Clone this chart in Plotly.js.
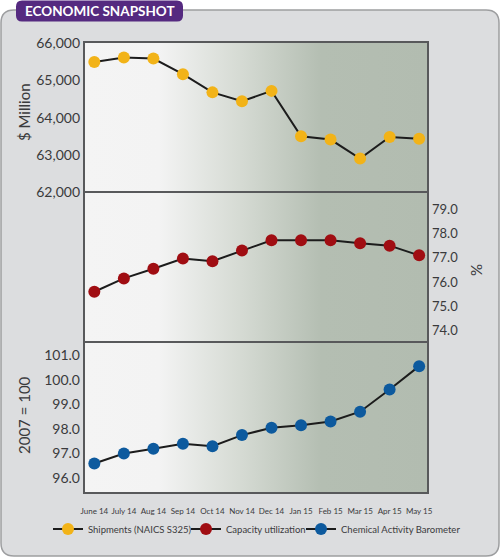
<!DOCTYPE html>
<html>
<head>
<meta charset="utf-8">
<script src="https://cdn.plot.ly/plotly-3.0.1.min.js"></script>
<style>html,body{margin:0;padding:0;background:#fff;}#chart{width:500px;height:558px;}</style>
</head>
<body>
<div id="chart"></div>
<script>
// ---- data ----
var months = ["June 14","July 14","Aug 14","Sep 14","Oct 14","Nov 14","Dec 14","Jan 15","Feb 15","Mar 15","Apr 15","May 15"];
var shipments = [65500,65620,65590,65170,64680,64440,64720,63500,63410,62900,63480,63430];
var capacity = [75.6,76.15,76.55,76.97,76.86,77.3,77.72,77.72,77.72,77.6,77.5,77.1];
var barometer = [96.6,97.0,97.2,97.4,97.3,97.75,98.05,98.15,98.3,98.7,99.6,100.55];
var seriesNames = ["Shipments (NAICS S325)","Capacity utilization","Chemical Activity Barometer"];
var shipTicks = [62000,63000,64000,65000,66000];
var capTicks = [74,75,76,77,78,79];
var cabTicks = [96,97,98,99,100,101];

// ---- layout helpers (pixel -> paper) ----
var W = 500, H = 558;
var L = 84, R = 428, T = 42, B = 493;
function X(px){ return (px - L) / (R - L); }
function Y(py){ return (B - py) / (B - T); }
function roundRect(x0,y0,x1,y1,r){
  return 'M'+X(x0+r)+','+Y(y0)+' L'+X(x1-r)+','+Y(y0)+' Q'+X(x1)+','+Y(y0)+' '+X(x1)+','+Y(y0+r)+
    ' L'+X(x1)+','+Y(y1-r)+' Q'+X(x1)+','+Y(y1)+' '+X(x1-r)+','+Y(y1)+
    ' L'+X(x0+r)+','+Y(y1)+' Q'+X(x0)+','+Y(y1)+' '+X(x0)+','+Y(y1-r)+
    ' L'+X(x0)+','+Y(y0+r)+' Q'+X(x0)+','+Y(y0)+' '+X(x0+r)+','+Y(y0)+' Z';
}
var d1 = Y(192), d2 = Y(342);

var fontFam = 'Lato, "Open Sans", sans-serif';
var txt = '#3a3a3c';
var lineCol = '#1c1c1c';

var traces = [
  {x: months, y: shipments, name: seriesNames[0], xaxis:'x', yaxis:'y', legend:'legend', mode:'lines+markers',
   line:{color:lineCol,width:2}, marker:{color:'#f2b318',size:12}},
  {x: months, y: capacity, name: seriesNames[1], xaxis:'x', yaxis:'y2', legend:'legend2', mode:'lines+markers',
   line:{color:lineCol,width:2}, marker:{color:'#a00d12',size:12}},
  {x: months, y: barometer, name: seriesNames[2], xaxis:'x', yaxis:'y3', legend:'legend3', mode:'lines+markers',
   line:{color:lineCol,width:2}, marker:{color:'#0d5a9e',size:12}}
];

var grad = "<svg xmlns='http://www.w3.org/2000/svg' width='344' height='451' viewBox='0 0 344 451' preserveAspectRatio='none'>"+
 "<defs><linearGradient id='g' x1='0' y1='0' x2='1' y2='0'>"+
 "<stop offset='0' stop-color='#f4f4f4'/><stop offset='0.22' stop-color='#f3f3f3'/>"+
 "<stop offset='0.45' stop-color='#d6dbd4'/><stop offset='0.69' stop-color='#b4beb2'/><stop offset='1' stop-color='#b2bcb0'/>"+
 "</linearGradient></defs><rect x='0' y='0' width='344' height='451' fill='url(#g)'/></svg>";

var yBase = {showgrid:false, zeroline:false, showline:false, ticks:'', anchor:'x', ticklabelstandoff:3,
  tickfont:{family:fontFam,size:14,color:txt}, fixedrange:true};

function ann(text, px, py, angle, size, color){
  return {text:text, xref:'paper', yref:'paper', x:X(px), y:Y(py), xanchor:'center', yanchor:'middle',
    textangle:angle, showarrow:false, font:{family:fontFam,size:size,color:color||txt}};
}
function leg(px){
  return {orientation:'h', xref:'container', yref:'container', x:px/W, xanchor:'left', y:(H-529)/H, yanchor:'middle',
    font:{family:fontFam,size:9.5,color:txt}, bgcolor:'rgba(0,0,0,0)', itemwidth:30, borderwidth:0};
}

var layout = {
  width:W, height:H,
  margin:{l:L, r:W-R, t:T, b:H-B, autoexpand:false},
  paper_bgcolor:'#dcdddf', plot_bgcolor:'rgba(0,0,0,0)',
  font:{family:fontFam, color:txt},
  showlegend:true,
  legend:leg(48), legend2:leg(186), legend3:leg(301),
  xaxis:{type:'category', anchor:'y3', range:[-0.35,11.3], showgrid:false, zeroline:false, showline:false,
    ticks:'outside', ticklen:10, tickcolor:'rgba(0,0,0,0)', tickangle:0, tickfont:{family:fontFam,size:8,color:txt}},
  yaxis:Object.assign({}, yBase, {domain:[d1,1], range:[62000,66035], tickvals:shipTicks, tickformat:','}),
  yaxis2:Object.assign({}, yBase, {domain:[d2,d1], range:[73.53,79.71], side:'right', tickvals:capTicks, tickformat:'.1f',
    tickfont:{family:fontFam,size:13,color:txt}}),
  yaxis3:Object.assign({}, yBase, {domain:[0,d2], range:[95.4,101.53], tickvals:cabTicks, tickformat:'.1f'}),
  images:[{source:'data:image/svg+xml;charset=utf-8,'+encodeURIComponent(grad), xref:'paper', yref:'paper',
    x:0, y:1, sizex:1, sizey:1, sizing:'stretch', xanchor:'left', yanchor:'top', layer:'below'}],
  shapes:[
    {type:'path', xref:'paper', yref:'paper', layer:'below', fillrule:'evenodd', fillcolor:'#ffffff', line:{width:0},
     path:'M'+X(0)+','+Y(0)+' L'+X(W)+','+Y(0)+' L'+X(W)+','+Y(H)+' L'+X(0)+','+Y(H)+' Z '+roundRect(1,10,499,556,13)},
    {type:'path', xref:'paper', yref:'paper', layer:'below', line:{color:'#9d9ea0',width:1.5}, fillcolor:'rgba(0,0,0,0)',
     path:roundRect(1,10,499,556,13)},
    {type:'path', xref:'paper', yref:'paper', layer:'below', line:{width:0}, fillcolor:'#552a80',
     path:roundRect(16,0.5,183,21.5,6)},
    {type:'rect', xref:'paper', yref:'paper', layer:'below', x0:0, x1:1, y0:d1, y1:1, line:{color:'#58595b',width:2}},
    {type:'rect', xref:'paper', yref:'paper', layer:'below', x0:0, x1:1, y0:d2, y1:d1, line:{color:'#58595b',width:2}},
    {type:'rect', xref:'paper', yref:'paper', layer:'below', x0:0, x1:1, y0:0, y1:d2, line:{color:'#58595b',width:2}}
  ],
  annotations:[
    ann('<b>ECONOMIC SNAPSHOT</b>', 99.5, 11, 0, 13.5, '#ffffff'),
    ann('$ Million', 24, 112, -90, 15),
    ann('2007 = 100', 24, 415, -90, 15),
    ann('%', 476, 270, -90, 15)
  ]
};

Plotly.newPlot('chart', traces, layout, {displayModeBar:false, staticPlot:true});
</script>
</body>
</html>
